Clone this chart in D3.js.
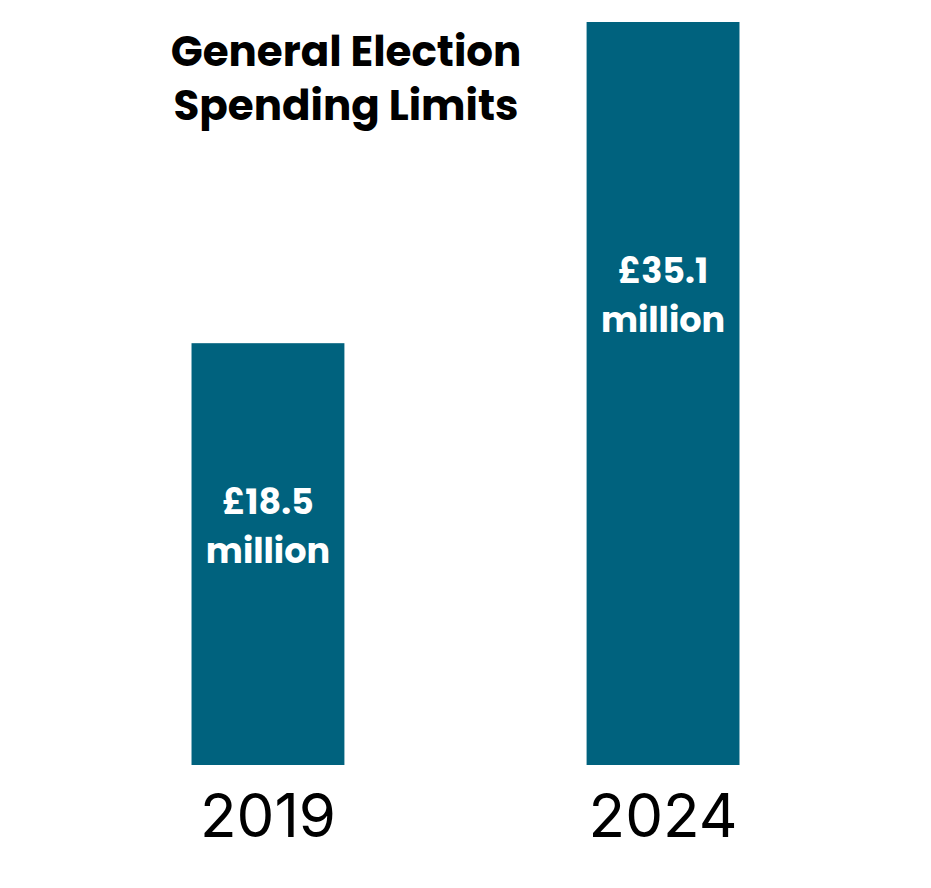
<!DOCTYPE html>
<html><head><meta charset="utf-8">
<script src="https://cdn.jsdelivr.net/npm/d3@7"></script>
<style>body{margin:0;background:#fff}</style>
</head><body>
<svg id="c" width="931" height="888"></svg>
<script>
const years = ["2019", "2024"];
const limits = [18.5, 35.1];
const valueLabels = ["£18.5", "£35.1"];
const titleLines = ["General Election", "Spending Limits"];

const svg = d3.select("#c");
const boldFont = "Poppins, 'DejaVu Sans', sans-serif";

const x = d3.scaleBand().domain(years).range([73, 858]).paddingInner(0.613).paddingOuter(0.3);
const y = d3.scaleLinear().domain([-3.3, 35.1]).range([765, 22]);

// label offsets below bar top (layout only)
const labelOffset = [171, 261];

const data = years.map((yr, i) => ({yr, v: limits[i], lab: valueLabels[i], off: labelOffset[i]}));

svg.selectAll("rect.bar").data(data).join("rect")
  .attr("class", "bar")
  .attr("x", d => x(d.yr))
  .attr("width", x.bandwidth())
  .attr("y", d => y(d.v))
  .attr("height", d => y.range()[0] - y(d.v))
  .attr("fill", "#00627e");

const g = svg.selectAll("g.lab").data(data).join("g").attr("class", "lab");
g.append("text")
  .attr("x", d => x(d.yr) + x.bandwidth() / 2)
  .attr("y", d => y(d.v) + d.off)
  .attr("text-anchor", "middle")
  .attr("font-family", boldFont).attr("font-weight", "bold")
  .attr("font-size", 35).attr("fill", "#fff")
  .text(d => d.lab);
g.append("text")
  .attr("x", d => x(d.yr) + x.bandwidth() / 2)
  .attr("y", d => y(d.v) + d.off + 49)
  .attr("text-anchor", "middle")
  .attr("font-family", boldFont).attr("font-weight", "bold")
  .attr("font-size", 35).attr("fill", "#fff")
  .text("million");

const xAxis = d3.axisBottom(x).tickSize(0).tickPadding(0);
const ax = svg.append("g").attr("transform", "translate(0,765)").call(xAxis);
ax.select(".domain").remove();
ax.selectAll("text")
  .attr("dy", null)
  .attr("y", 72)
  .attr("font-family", "Inter, 'Liberation Sans', Arial, sans-serif")
  .attr("font-size", 60)
  .attr("fill", "#000");

svg.selectAll("text.title").data(titleLines).join("text")
  .attr("class", "title")
  .attr("x", 346)
  .attr("y", (d, i) => 66 + i * 54)
  .attr("text-anchor", "middle")
  .attr("font-family", boldFont).attr("font-weight", "bold")
  .attr("font-size", 42).attr("fill", "#000")
  .text(d => d);
</script>
</body></html>
